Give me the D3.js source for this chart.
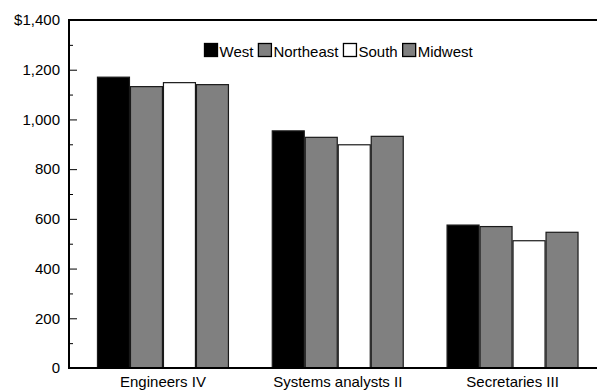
<!DOCTYPE html>
<html>
<head>
<meta charset="utf-8">
<script src="https://cdn.jsdelivr.net/npm/d3@7"></script>
<style>
  html, body { margin: 0; padding: 0; background: #fff; }
  svg { display: block; font-family: "Liberation Sans", Arial, sans-serif; }
</style>
</head>
<body>
<svg id="chart" width="597" height="391"></svg>
<script>
const categories = ["Engineers IV", "Systems analysts II", "Secretaries III"];
const seriesNames = ["West", "Northeast", "South", "Midwest"];
const westValues = [1172, 956, 577];
const northeastValues = [1134, 930, 571];
const southValues = [1150, 900, 514];
const midwestValues = [1142, 934, 548];
const seriesColors = ["#000000", "#808080", "#ffffff", "#808080"];
const yTicks = [0, 200, 400, 600, 800, 1000, 1200, 1400];
const yMinorTicks = [100, 300, 500, 700, 900, 1100, 1300];

const seriesValues = [westValues, northeastValues, southValues, midwestValues];
const data = categories.map((c, i) => ({
  category: c,
  values: seriesNames.map((s, j) => ({ series: s, value: seriesValues[j][i], color: seriesColors[j] }))
}));

const svg = d3.select("#chart");
const mLeft = 69, mTop = 20, mBottom = 368, mRight = 597;
const FONT = "Liberation Sans, Arial, sans-serif";

const x0 = d3.scaleBand().domain(categories).range([mLeft, 606.5]).paddingInner(0.245).paddingOuter(0.16);
const x1 = d3.scaleBand().domain(seriesNames).range([0, x0.bandwidth()]).padding(0);
const y = d3.scaleLinear().domain([0, 1400]).range([mBottom, mTop]);

// bars
const groups = svg.append("g").selectAll("g").data(data).join("g")
  .attr("transform", d => `translate(${x0(d.category)},0)`);
groups.selectAll("rect").data(d => d.values).join("rect")
  .attr("x", d => x1(d.series) + 0.5)
  .attr("y", d => y(d.value) + 0.5)
  .attr("width", x1.bandwidth() - 1)
  .attr("height", d => y(0) - y(d.value) - 0.5)
  .attr("fill", d => d.color)
  .attr("stroke", "#1a1a1a")
  .attr("stroke-width", 1.2);

// y axis
const yAxis = d3.axisRight(y).tickValues(yTicks).tickSize(8)
  .tickFormat(d => d === 1400 ? "$1,400" : d3.format(",")(d));
const ya = svg.append("g").attr("transform", `translate(${mLeft},0)`).call(yAxis);
ya.select(".domain").remove();
ya.selectAll(".tick line").attr("stroke", "#000");
ya.selectAll(".tick text").attr("x", -9).attr("text-anchor", "end")
  .attr("font-size", 15).attr("fill", "#000").attr("font-family", FONT);
const yMinor = d3.axisRight(y).tickValues(yMinorTicks).tickSize(4).tickFormat("");
const ym = svg.append("g").attr("transform", `translate(${mLeft},0)`).call(yMinor);
ym.select(".domain").remove();
ym.selectAll(".tick line").attr("stroke", "#000");

// x axis labels
const xAxis = d3.axisBottom(x0).tickSize(0).tickPadding(8);
const xa = svg.append("g").attr("transform", `translate(0,${mBottom})`).call(xAxis);
xa.select(".domain").remove();
xa.selectAll(".tick text").attr("font-size", 15).attr("fill", "#000")
  .attr("font-family", FONT).attr("dy", null).attr("y", 19);

// frame lines
svg.append("line").attr("x1", mLeft).attr("x2", mRight).attr("y1", mTop).attr("y2", mTop)
  .attr("stroke", "#000").attr("stroke-width", 2);
svg.append("line").attr("x1", mLeft).attr("x2", mRight).attr("y1", mBottom).attr("y2", mBottom)
  .attr("stroke", "#000").attr("stroke-width", 2);
svg.append("line").attr("x1", mLeft).attr("x2", mLeft).attr("y1", mTop - 1).attr("y2", mBottom + 1)
  .attr("stroke", "#000").attr("stroke-width", 2);

// legend
const legend = svg.append("g").attr("transform", "translate(204,43)");
let lx = 0;
seriesNames.forEach((s, i) => {
  const g = legend.append("g").attr("transform", `translate(${lx},0)`);
  g.append("rect").attr("x", 0.5).attr("y", 0.5).attr("width", 13).attr("height", 13)
    .attr("fill", seriesColors[i]).attr("stroke", "#000").attr("stroke-width", 1.3);
  const t = g.append("text").attr("x", 15.5).attr("y", 13.5).attr("font-size", 15)
    .attr("font-family", FONT).text(s);
  lx += 15.5 + t.node().getComputedTextLength() + 4.5;
});
</script>
</body>
</html>
